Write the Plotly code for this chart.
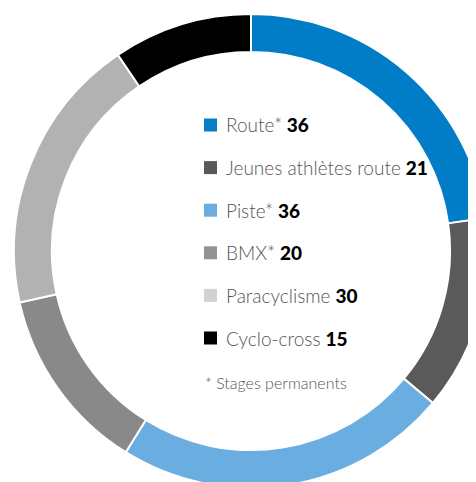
import plotly.graph_objects as go

# data
labels = ["Route*", "Jeunes athlètes route", "Piste*", "BMX*", "Paracyclisme", "Cyclo-cross"]
values = [36, 21, 36, 20, 30, 15]
footnote = "* Stages permanents"

slice_colors = ["#007dc6", "#5a5a5a", "#6aade0", "#898989", "#b2b2b2", "#000000"]
key_colors = ["#0a7dc7", "#595959", "#6aaee0", "#939393", "#d2d2d2", "#000000"]

# the page body adds an 8px offset; the ring runs past the window edge
W, H = 490, 490
OFF = 8
FONT = "Lato"


def px_x(x):
    return (x - OFF) / W


def px_y(y):
    return 1 - (y - OFF) / H


fig = go.Figure()
fig.add_trace(go.Pie(
    labels=labels,
    values=values,
    hole=0.84,
    sort=False,
    direction="clockwise",
    rotation=0,
    marker=dict(colors=slice_colors, line=dict(color="white", width=2)),
    textinfo="none",
    hoverinfo="label+value",
    showlegend=False,
    domain=dict(x=[px_x(14), px_x(488)], y=[px_y(488), px_y(14)]),
))

# key inside the hole
row0, step = 125, 42.6
shapes, annots = [], []
for i, (lab, val, col) in enumerate(zip(labels, values, key_colors)):
    yc = row0 + i * step
    shapes.append(dict(type="rect", xref="paper", yref="paper",
                       x0=px_x(204), x1=px_x(217), y0=px_y(yc - 6.5), y1=px_y(yc + 6.5),
                       fillcolor=col, line=dict(width=0)))
    annots.append(dict(xref="paper", yref="paper", x=px_x(224), y=px_y(yc),
                       xanchor="left", yanchor="middle", showarrow=False,
                       text=(f"<span style='color:#555555;font-weight:300'>{lab}</span> "
                             f"<span style='font-weight:900'>{val}</span>"),
                       font=dict(family=FONT, size=19, color="#000000")))
annots.append(dict(xref="paper", yref="paper", x=px_x(203), y=px_y(382),
                   xanchor="left", yanchor="middle", showarrow=False,
                   text=f"<span style='font-weight:300'>{footnote}</span>",
                   font=dict(family=FONT, size=16, color="#555555")))

fig.update_layout(
    width=W, height=H,
    margin=dict(l=0, r=0, t=0, b=0),
    paper_bgcolor="white",
    plot_bgcolor="white",
    shapes=shapes,
    annotations=annots,
)

fig.write_html("out.html")
